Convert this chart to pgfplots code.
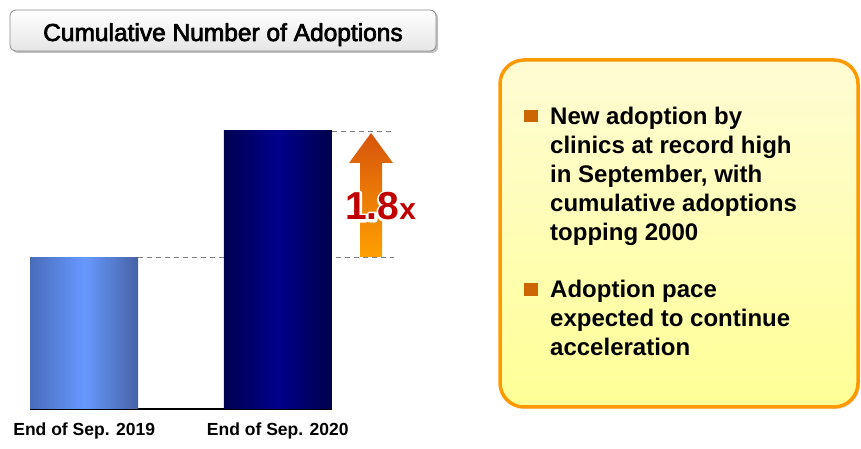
\documentclass[border=0pt]{standalone}
\usepackage{pgfplots}
\pgfplotsset{compat=1.18}
\usepackage{fontspec}
\setmainfont{Liberation Sans}
\definecolor{barAl}{RGB}{74,108,186}
\definecolor{barAm}{RGB}{102,153,255}
\definecolor{barAr}{RGB}{70,98,165}
\definecolor{barBl}{RGB}{0,0,80}
\definecolor{barBm}{RGB}{0,0,140}
\definecolor{barBr}{RGB}{0,0,75}
\definecolor{arrTop}{RGB}{214,84,12}
\definecolor{arrBot}{RGB}{255,160,0}
\definecolor{multRed}{RGB}{192,0,0}
\definecolor{boxBorder}{RGB}{255,153,0}
\definecolor{boxTop}{RGB}{255,252,212}
\definecolor{boxBot}{RGB}{255,255,150}
\definecolor{bulletC}{RGB}{204,102,0}
\begin{document}
\begin{tikzpicture}[x=1pt,y=1pt]
\path[use as bounding box] (0,0) rectangle (861,449);
% title box
\fill[black!25, rounded corners=6pt] (12,396) rectangle (438,437);
\shade[top color=white, bottom color=black!10, draw=black!45, line width=0.8pt, rounded corners=6pt] (10,398) rectangle (436,439);
\node[anchor=base] at (223,408) {\special{pdf:code 2 Tr 0.7 w 1 j}\fontsize{24.5}{28}\selectfont Cumulative Number of Adoptions\special{pdf:code 0 Tr}};
% chart
\begin{axis}[
  at={(30pt,40pt)}, anchor=south west,
  scale only axis, width=302pt, height=278pt,
  xmin=-0.28, xmax=1.28, ymin=0, ymax=2012,
  hide y axis, axis x line*=bottom,
  axis line style={black, line width=1.6pt},
  xtick={0,1}, xticklabels={End of Sep. 2019, End of Sep. 2020},
  major tick length=0pt,
  xticklabel style={font=\bfseries\fontsize{17.5}{20}\selectfont, yshift=-10pt},
  clip=false,
]
\addplot[forget plot, gray, line width=0.8pt, dash pattern=on 5pt off 4pt] coordinates {(0.28,1100) (1.6,1100)};
\addplot[forget plot, gray, line width=0.8pt, dash pattern=on 5pt off 4pt] coordinates {(1.28,2012) (1.6,2012)};
\addplot[ybar, bar width=108pt, bar shift=0pt, draw=none, left color=barAl, right color=barAr, middle color=barAm] coordinates {(0,1100)};
\addplot[ybar, bar width=108pt, bar shift=0pt, draw=none, left color=barBl, right color=barBr, middle color=barBm] coordinates {(1,2012)};
\end{axis}
% arrow
\shade[top color=arrTop, bottom color=arrBot] (360,192) -- (360,286) -- (349,286) -- (371,316) -- (393,286) -- (382,286) -- (382,192) -- cycle;
% 1.8x with white halo
\node[anchor=base west, inner sep=0pt, text=white, font=\bfseries] at (345,229) {\special{pdf:code 2 Tr 5 w 1 j}\fontsize{39}{40}\selectfont 1.8\fontsize{30}{30}\selectfont x\special{pdf:code 0 Tr}};
\node[anchor=base west, inner sep=0pt, text=multRed, font=\bfseries] at (345,229) {\fontsize{39}{40}\selectfont 1.8\fontsize{30}{30}\selectfont x};
% right box
\fill[black!12, rounded corners=24pt] (502,40) rectangle (860,387);
\shade[top color=boxTop, bottom color=boxBot, rounded corners=24pt] (500,42) rectangle (858,389);
\draw[boxBorder, line width=3.5pt, rounded corners=24pt] (500,42) rectangle (858,389);
\fill[bulletC] (524,327) rectangle (538,339);
\fill[bulletC] (524,153) rectangle (538,166);
\node[anchor=base west, inner sep=0pt, align=left, font=\bfseries\fontsize{24}{29}\selectfont] at (550,208) {New adoption by\\clinics at record high\\in September, with\\cumulative adoptions\\topping 2000};
\node[anchor=base west, inner sep=0pt, align=left, font=\bfseries\fontsize{24}{29}\selectfont] at (550,93) {Adoption pace\\expected to continue\\acceleration};
\end{tikzpicture}
\end{document}
